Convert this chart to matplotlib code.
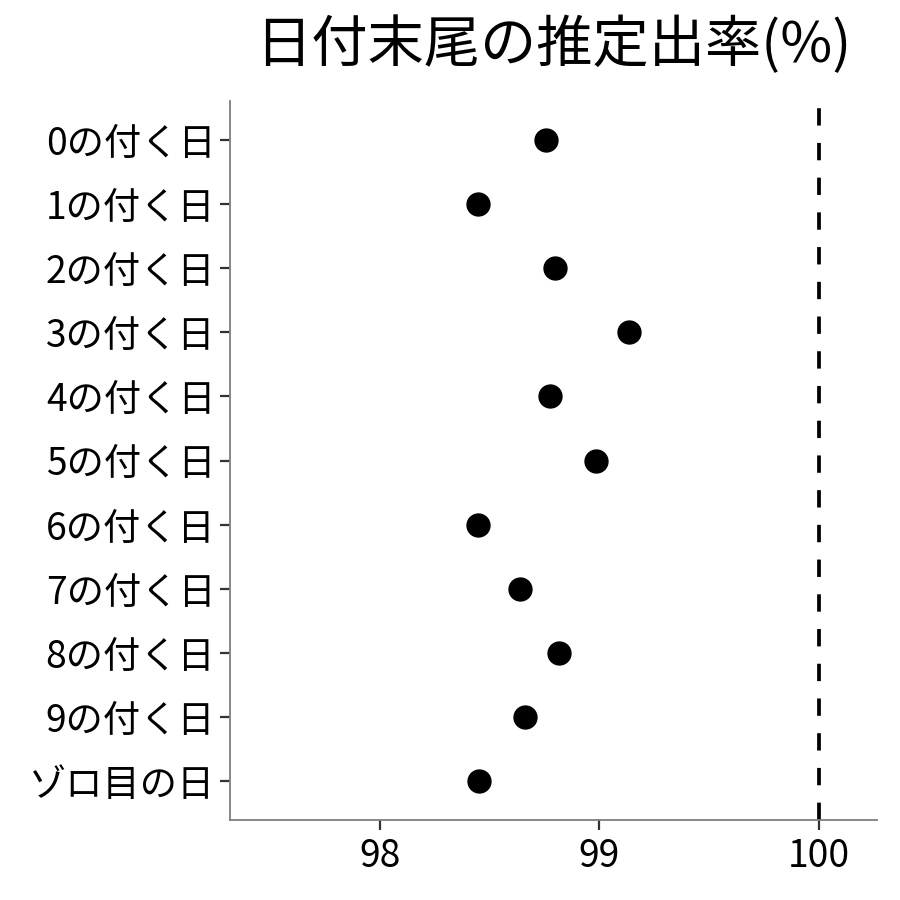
import matplotlib
matplotlib.use('Agg')
import matplotlib.pyplot as plt
import numpy as np

plt.rcParams['font.family'] = ['Noto Sans CJK JP', 'DejaVu Sans']
plt.rcParams['lines.scale_dashes'] = False

# categories (top to bottom) and estimated rates (%)
labels = ['0の付く日', '1の付く日', '2の付く日', '3の付く日', '4の付く日',
          '5の付く日', '6の付く日', '7の付く日', '8の付く日', '9の付く日', 'ゾロ目の日']
rates = [98.756, 98.446, 98.798, 99.134, 98.777, 98.984, 98.448, 98.638, 98.818, 98.660, 98.453]
xticks = [98, 99, 100]
ref_line = 100

fig = plt.figure(figsize=(9, 9), dpi=100)
ax = fig.add_axes([230/900, 1 - 820/900, (877-230)/900, (820-101)/900])

ypos = np.arange(len(labels))[::-1]
ax.plot(rates, ypos, 'o', color='black', markersize=16.5, linestyle='none', zorder=3)
ax.axvline(ref_line, color='black', linewidth=2.7, linestyle=(0, (12.5, 12.5)), zorder=2)

ax.set_yticks(ypos)
ax.set_yticklabels(labels)
ax.set_xticks(xticks)
ax.set_xticklabels([str(t) for t in xticks])
ax.set_xlim(97.317, 100.265)
ax.set_ylim(-0.6, len(labels) - 1 + 0.6)

for side in ['top', 'right']:
    ax.spines[side].set_visible(False)
for side in ['left', 'bottom']:
    ax.spines[side].set_color('#7f7f7f')
    ax.spines[side].set_linewidth(1.3)

ax.tick_params(axis='both', length=7, width=1.6, color='#333333', labelsize=26.8,
               labelcolor='black', pad=5)
ax.tick_params(axis='y', pad=3.5)

fig.text((230+877)/2/900, 1 - 46/900, '日付末尾の推定出率(%)', ha='center', va='center', fontsize=40.5)

fig.savefig('out.png', dpi=100, facecolor='white')
